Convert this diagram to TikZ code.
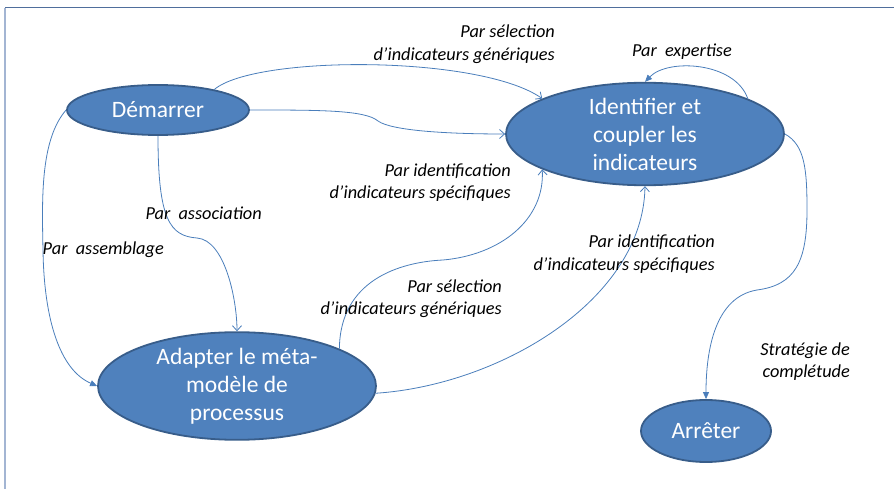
\documentclass[tikz,border=0pt]{standalone}
\usepackage{fontspec}
\setmainfont{Carlito}
\usetikzlibrary{shapes.geometric,arrows.meta}
\definecolor{statefill}{HTML}{4F81BD}
\definecolor{stateedge}{HTML}{385D8A}
\definecolor{linkcol}{HTML}{4A7EBB}
\definecolor{frametop}{HTML}{4F6E9C}
\definecolor{frameleft}{HTML}{A3B5D3}
\tikzset{
  state/.style={ellipse, draw=stateedge, line width=1.8pt, fill=statefill,
    text=white, inner sep=0pt, align=center,
    font=\fontsize{23.5}{28}\selectfont},
  link/.style={draw=linkcol, line width=0.8pt},
  openhead/.style={-{Straight Barb[length=5pt,width=9pt]}},
  fullhead/.style={-{Triangle[length=7pt,width=6pt]}},
  lbl/.style={align=right, inner sep=0pt, anchor=east,
    font=\itshape\fontsize{18.3}{22.5}\selectfont}
}
\newcommand{\wsp}{\hspace{0.45em}}
\begin{document}
\begin{tikzpicture}[x=1pt,y=-1pt]
\useasboundingbox (0,0) rectangle (894,489);
% frame edges
\draw[frametop, line width=1pt] (5,8) -- (894,8);
\draw[frameleft, line width=1.5pt] (5,8) -- (5,489);

% states
\node[state, minimum width=182pt, minimum height=50pt] (dem) at (158,110) {Démarrer};
\node[state, minimum width=278pt, minimum height=92pt] (idf) at (645,134) {Identifier et\\coupler les\\indicateurs};
\node[state, minimum width=278pt, minimum height=92pt] (ada) at (237,386) {Adapter le méta-\\modèle de\\processus};
\node[state, minimum width=130pt, minimum height=62pt] (arr) at (706,431) {Arrêter};

% transitions
\draw[link, openhead] (dem.20) .. controls (255,55) and (480,55) .. (idf.161);
\draw[link, openhead] (dem.east) .. controls (320,110) and (365,110) .. (378,121)
   .. controls (392,131) and (450,134) .. (idf.west);
\draw[link, openhead] (dem.south) .. controls (158,220) and (170,236) .. (197,238)
   .. controls (225,240) and (237,300) .. (ada.north);
\draw[link, fullhead] (dem.west) .. controls (40,140) and (42,200) .. (43,250)
   .. controls (44,320) and (60,370) .. (ada.west);
\draw[link, openhead] (ada.20) .. controls (340,280) and (400,262) .. (443,260)
   .. controls (500,255) and (545,220) .. (idf.199);
\draw[link, openhead] (ada.-3) .. controls (500,385) and (643,300) .. (idf.south);
\draw[link, fullhead] (idf.19) .. controls (735,62) and (668,58) .. (idf.north);
\draw[link, fullhead] (idf.east) .. controls (805,145) and (807,170) .. (807,210)
   .. controls (807,262) and (795,285) .. (757,290)
   .. controls (715,297) and (706,350) .. (arr.north);

% transition labels
\node[lbl] (l1) at (555,44) {Par sélection\\d’indicateurs génériques};
\node[lbl] (l2) at (732,52) {Par\wsp expertise};
\node[lbl] (l3) at (511,182.5) {Par identification\\d’indicateurs spécifiques};
\node[lbl] (l4) at (262,213) {Par\wsp association};
\node[lbl] (l5) at (164,250) {Par\wsp assemblage};
\node[lbl] (l6) at (715,254) {Par identification\\d’indicateurs spécifiques};
\node[lbl] (l7) at (502,298.5) {Par sélection\\d’indicateurs génériques};
\node[lbl] (l8) at (850,361.5) {Stratégie de\\complétude};
\end{tikzpicture}
\end{document}
